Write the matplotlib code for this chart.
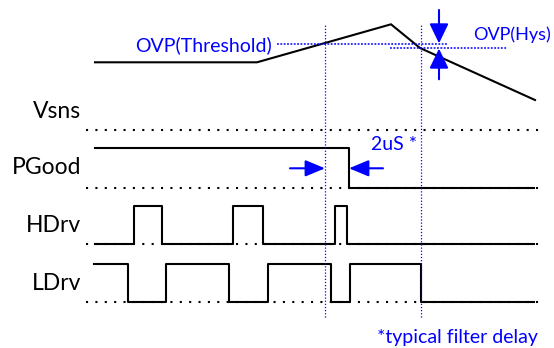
import matplotlib
matplotlib.use("Agg")
import matplotlib.pyplot as plt

# === Timing data (time axis in arbitrary units) ===
rows = ["Vsns", "PGood", "HDrv", "LDrv"]

# Vsns: analog ramp, level above its row baseline
vsns_t = [95, 257, 391, 420, 535]
vsns_v = [67.7, 67.7, 105.7, 82.0, 30.0]
ovp_threshold = 86.0
ovp_hys_low = 82.0

# digital signals: edge times and logic levels (steps-post)
pgood_t = [95, 349, 534]
pgood_v = [1, 0, 0]
hdrv_t = [95, 134, 162, 233, 263, 335, 347, 534]
hdrv_v = [0, 1, 0, 1, 0, 1, 0, 0]
ldrv_t = [94, 128, 166, 229, 267.5, 331, 350, 421, 534]
ldrv_v = [1, 0, 1, 0, 1, 0, 1, 0, 0]

t_ovp_trip = 325      # Vsns crosses threshold
t_filter_end = 349    # PGood falls after filter delay
t_ldrv_off = 421      # Vsns back under hysteresis

# === Layout ===
row_base = {"Vsns": 218, "PGood": 160, "HDrv": 104, "LDrv": 46.5}
row_amp = {"PGood": 40, "HDrv": 38, "LDrv": 37.5}
label_y = {"Vsns": 236, "PGood": 180, "HDrv": 122, "LDrv": 65}

BLUE = "#0000ff"
FONT = "Lato"

fig = plt.figure(figsize=(5.54, 3.48), dpi=100)
ax = fig.add_axes([0, 0, 1, 1])
ax.set_xlim(0, 554)
ax.set_ylim(0, 348)
ax.axis("off")

# dotted baselines + row labels
for name in rows:
    b = row_base[name]
    ax.plot([86, 545], [b, b], color="black", lw=1.5, ls=(0, (1, 3.5)))
    ax.text(81, label_y[name], name, ha="right", va="center", fontsize=16.5,
            family=FONT, color="black")

# Vsns
ax.plot(vsns_t, [row_base["Vsns"] + v for v in vsns_v], color="black", lw=1.5)

# digital signals
for name, t, v in [("PGood", pgood_t, pgood_v), ("HDrv", hdrv_t, hdrv_v), ("LDrv", ldrv_t, ldrv_v)]:
    ys = [row_base[name] + row_amp[name] * s for s in v]
    ax.plot(t, ys, color="black", lw=1.5, drawstyle="steps-post")

# blue vertical markers
for tx in [t_ovp_trip, t_ldrv_off]:
    ax.plot([tx, tx], [31, 324], color=BLUE, lw=0.9, ls=(0, (1, 1.5)))

# threshold / hysteresis lines
y_thr = row_base["Vsns"] + ovp_threshold
y_hys = row_base["Vsns"] + ovp_hys_low
ax.plot([277, 447], [y_thr, y_thr], color=BLUE, lw=1.1, ls=(0, (1.2, 1)))
ax.plot([390, 507], [y_hys, y_hys], color=BLUE, lw=1.1, ls=(0, (1.2, 1)))


def blue_arrow(tail, tip, hw=0.58):
    ax.annotate("", xy=tip, xytext=tail,
                arrowprops=dict(arrowstyle=f"-|>,head_length=1.2,head_width={hw}",
                                mutation_scale=10, color=BLUE, lw=1.5,
                                shrinkA=0, shrinkB=0))


# hysteresis arrows
blue_arrow((439, 338), (439, y_thr + 0.6))
blue_arrow((439, 268.7), (439, y_hys - 0.6))

# filter delay arrows
y_arr = 179.7
blue_arrow((290, y_arr), (t_ovp_trip, y_arr), hw=0.5)
blue_arrow((383, y_arr), (t_filter_end, y_arr), hw=0.5)

# annotations
ax.text(135, 303, "OVP(Threshold)", ha="left", va="center", fontsize=14, family=FONT, color=BLUE)
ax.text(473, 313, "OVP(Hys)", ha="left", va="center", fontsize=13, family=FONT, color=BLUE)
ax.text(371, 203, "2uS *", ha="left", va="center", fontsize=14, family=FONT, color=BLUE)
ax.text(377, 11, "*typical filter delay", ha="left", va="center", fontsize=14, family=FONT, color=BLUE)

fig.savefig("out.png", dpi=100)
